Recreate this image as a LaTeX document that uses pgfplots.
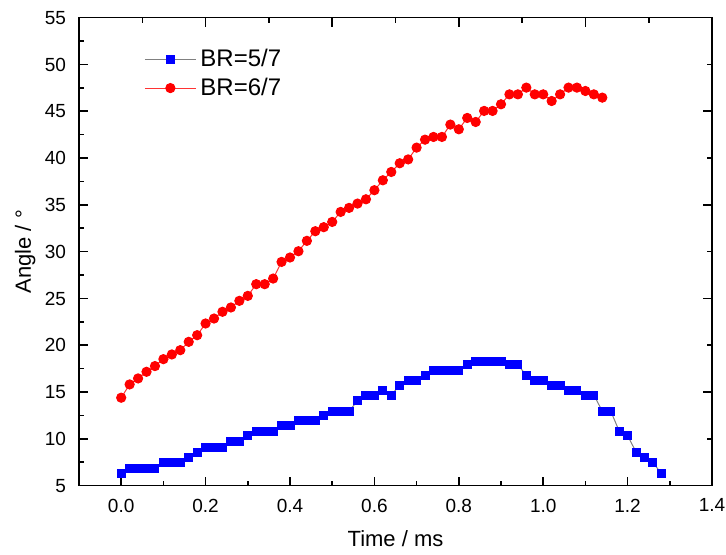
\documentclass[border=0pt]{standalone}
\usepackage{fontspec}
\setmainfont{Liberation Sans}
\usepackage{pgfplots}
\pgfplotsset{compat=1.18}
\usepackage{pgfplotstable}

\definecolor{myblue}{RGB}{0,0,255}
\definecolor{myred}{RGB}{255,0,0}

% BR=5/7
\pgfplotstableread{
t a
0.00 6.32
0.02 6.85
0.04 6.85
0.06 6.85
0.08 6.85
0.10 7.46
0.12 7.46
0.14 7.46
0.16 8.0
0.18 8.6
0.20 9.06
0.22 9.06
0.24 9.06
0.26 9.7
0.28 9.7
0.30 10.34
0.32 10.84
0.34 10.84
0.36 10.84
0.38 11.4
0.40 11.4
0.42 11.94
0.44 11.94
0.46 11.94
0.48 12.54
0.50 12.97
0.52 12.97
0.54 12.97
0.56 14.07
0.58 14.68
0.60 14.68
0.62 15.14
0.64 14.68
0.66 15.75
0.68 16.2
0.70 16.2
0.72 16.8
0.74 17.28
0.76 17.28
0.78 17.28
0.80 17.28
0.82 17.9
0.84 18.24
0.86 18.24
0.88 18.24
0.90 18.24
0.92 17.9
0.94 17.9
0.96 16.8
0.98 16.2
1.00 16.2
1.02 15.75
1.04 15.75
1.06 15.14
1.08 15.14
1.10 14.68
1.12 14.68
1.14 12.97
1.16 12.97
1.18 10.84
1.20 10.34
1.22 8.6
1.24 8.0
1.26 7.46
1.28 6.32
}\brfive

% BR=6/7
\pgfplotstableread{
t a
0.00 14.4
0.02 15.82
0.04 16.46
0.06 17.17
0.08 17.78
0.10 18.52
0.12 19.02
0.14 19.48
0.16 20.37
0.18 21.08
0.20 22.33
0.22 22.86
0.24 23.58
0.26 24.04
0.28 24.75
0.30 25.28
0.32 26.53
0.34 26.53
0.36 27.13
0.38 28.91
0.40 29.38
0.42 30.05
0.44 31.16
0.46 32.19
0.48 32.62
0.50 33.18
0.52 34.25
0.54 34.68
0.56 35.14
0.58 35.6
0.60 36.57
0.62 37.63
0.64 38.52
0.66 39.45
0.68 39.86
0.70 41.12
0.72 41.97
0.74 42.26
0.76 42.26
0.78 43.58
0.80 43.08
0.82 44.29
0.84 43.86
0.86 45.04
0.88 45.04
0.90 45.75
0.92 46.81
0.94 46.81
0.96 47.53
0.98 46.81
1.00 46.81
1.02 46.1
1.04 46.81
1.06 47.53
1.08 47.53
1.10 47.17
1.12 46.81
1.14 46.46
}\brsix

\begin{document}
\begin{tikzpicture}
\path[use as bounding box] (-39.5pt,-34.2pt) rectangle (323.5pt,242.85pt);
\pgfplotsset{
  common/.style={
    scale only axis,
    width=316.5pt, height=234pt,
    xmin=-0.1, xmax=1.4,
    ymin=5, ymax=55,
    tick align=inside,
    major tick length=4.5pt,
    minor tick length=2.5pt,
    every tick/.style={black, line width=0.8pt},
  },
}
\begin{axis}[
  common,
  axis line style={black, line width=0.8pt},
  xtick pos=bottom, ytick pos=left,
  xtick={0,0.2,...,1.41},
  minor xtick={-0.1,0.1,0.3,0.5,0.7,0.9,1.1,1.3},
  ytick={5,10,...,55},
  minor ytick={7.5,12.5,...,52.5},
  /pgf/number format/assume math mode=true,
  xticklabel={\pgfmathprintnumber[fixed,fixed zerofill,precision=1]{\tick}},
  ticklabel style={font=\fontsize{9.5}{11}\selectfont},
  xticklabel style={yshift=-3pt},
  yticklabel style={xshift=-3pt},
  xlabel={Time / ms},
  ylabel={Angle / °},
  label style={font=\fontsize{11}{13}\selectfont},
  xlabel style={at={(rel axis cs:0.5,0)}, anchor=center, yshift=-26.6pt},
  ylabel style={at={(axis description cs:-0.085,0.5)}, anchor=center},
  legend style={draw=none, fill=none, at={(0.093,0.95)}, anchor=north west,
    font=\fontsize{12}{14}\selectfont, row sep=0pt,
    /tikz/every even column/.append style={column sep=3pt}},
  legend cell align=left,
  legend image code/.code={\draw[mark repeat=2,mark phase=2,#1] plot coordinates {(0cm,0cm) (0.45cm,0cm) (0.9cm,0cm)};},
]
\addplot[draw=gray, line width=0.5pt, mark=square*, mark size=2pt,
  mark options={fill=myblue, draw=myblue, solid}] table[x=t, y=a] {\brfive};
\addlegendentry{BR=5/7}
\addplot[draw=myred!80, line width=0.5pt, mark=*, mark size=2.3pt,
  mark options={fill=myred, draw=myred, solid}] table[x=t, y=a] {\brsix};
\addlegendentry{BR=6/7}
\end{axis}
\begin{axis}[
  common,
  axis line style={draw=none},
  xtick pos=top, ytick pos=right,
  xtick={0.2,0.5,0.8,1.1},
  minor xtick={0.05,0.35,0.65,0.95,1.25},
  ytick={15,25,35,45},
  minor ytick={10,20,30,40,50},
  xticklabels={}, yticklabels={},
]
\end{axis}
\end{tikzpicture}
\end{document}
